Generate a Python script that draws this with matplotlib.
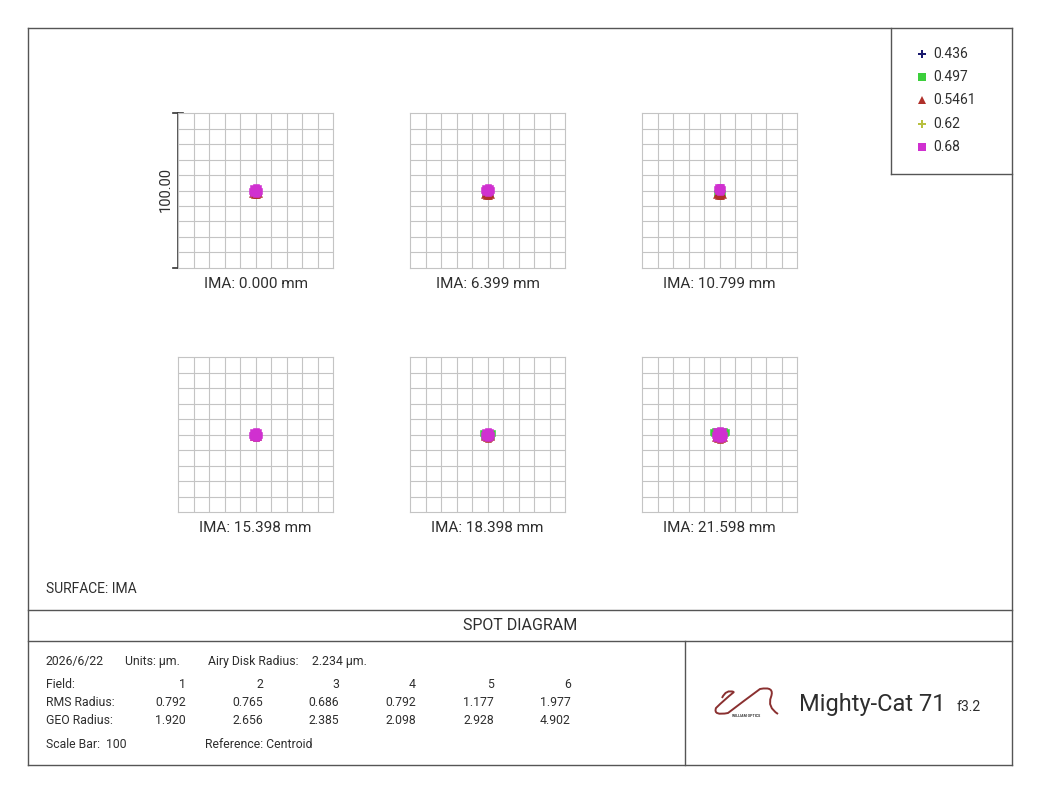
import matplotlib
matplotlib.use("Agg")
import matplotlib.pyplot as plt
from matplotlib.path import Path
from matplotlib.patches import PathPatch

plt.rcParams['font.family'] = ['Roboto', 'DejaVu Sans']

# wavelengths (um) and their marker styles
wavelengths = ['0.436', '0.497', '0.5461', '0.62', '0.68']
wl_colors = ['#1a1a6e', '#3ccf3c', '#b0302a', '#b8c040', '#d030d0']
wl_markers = ['P', 's', '^', 'P', 's']

field_labels = ['IMA: 0.000 mm', 'IMA: 6.399 mm', 'IMA: 10.799 mm',
                'IMA: 15.398 mm', 'IMA: 18.398 mm', 'IMA: 21.598 mm']

# spot points per field, per wavelength (x, y in um, relative to centroid)
spots = [
    {  # field 1
        '0.436': ([-1, 0, 1], [0, 1, 0]),
        '0.497': ([-1.5, 1.5], [-1, -1]),
        '0.5461': ([-2, -1, 0, 1, 2], [-2.5, -3, -3.2, -3, -2.5]),
        '0.62': ([0], [0]),
        '0.68': ([-2, -1.4, 0, 1.4, 2, 1.4, 0, -1.4], [0, 1.4, 2, 1.4, 0, -1.4, -2, -1.4]),
    },
    {  # field 2
        '0.436': ([-1, 0, 1], [0, 1, 0]),
        '0.497': ([-1.5, 1.5], [-1.5, -1.5]),
        '0.5461': ([-2.5, -1.2, 0, 1.2, 2.5], [-3, -3.6, -3.8, -3.6, -3]),
        '0.62': ([0], [0]),
        '0.68': ([-2, -1.4, 0, 1.4, 2, 1.4, 0, -1.4], [0.5, 1.9, 2.5, 1.9, 0.5, -0.9, -1.5, -0.9]),
    },
    {  # field 3
        '0.436': ([-1, 0, 1], [0, 1, 0]),
        '0.497': ([-1.5, 1.5], [-1.5, -1.5]),
        '0.5461': ([-2.2, -1, 0, 1, 2.2], [-2.8, -3.4, -3.6, -3.4, -2.8]),
        '0.62': ([0], [0]),
        '0.68': ([-1.8, -1.2, 0, 1.2, 1.8, 1.2, 0, -1.2], [0.8, 2, 2.4, 2, 0.8, -0.6, -1, -0.6]),
    },
    {  # field 4
        '0.436': ([-1, 0, 1], [0, 1, 0]),
        '0.497': ([-1.8, 1.8], [0, 0]),
        '0.5461': ([-1.5, 0, 1.5], [-1.5, -2, -1.5]),
        '0.62': ([0], [0]),
        '0.68': ([-2, -1.4, 0, 1.4, 2, 1.4, 0, -1.4], [0, 1.4, 2, 1.4, 0, -1.4, -2, -1.4]),
    },
    {  # field 5
        '0.436': ([-1, 0, 1], [0, 1, 0]),
        '0.497': ([-2.8, 2.8, -2.5, 2.5], [0.8, 0.8, -0.8, -0.8]),
        '0.5461': ([-2.2, -1, 0, 1, 2.2], [-1.8, -2.4, -2.6, -2.4, -1.8]),
        '0.62': ([0], [0]),
        '0.68': ([-2.2, -1.6, 0, 1.6, 2.2, 1.6, 0, -1.6], [0, 1.6, 2.2, 1.6, 0, -1.6, -2.2, -1.6]),
    },
    {  # field 6
        '0.436': ([-1, 0, 1], [0, 1, 0]),
        '0.497': ([-4.2, -3.6, 3.6, 4.2, -3.2, 3.2], [1.8, 0.8, 0.8, 1.8, 2.4, 2.4]),
        '0.5461': ([-3, -1.5, 0, 1.5, 3], [-2.2, -3, -3.3, -3, -2.2]),
        '0.62': ([0], [0]),
        '0.68': ([-3, -2.1, 0, 2.1, 3, 2.1, 0, -2.1, 0], [0, 2.1, 3, 2.1, 0, -2.1, -3, -2.1, 0]),
    },
]

field_nums = ['1', '2', '3', '4', '5', '6']
rms_radius = ['0.792', '0.765', '0.686', '0.792', '1.177', '1.977']
geo_radius = ['1.920', '2.656', '2.385', '2.098', '2.928', '4.902']

W, H = 1040, 795
txt = '#2e2e2e'
line_c = '#555555'

fig = plt.figure(figsize=(W / 100, H / 100), dpi=100)
fig.patch.set_facecolor('white')

# overlay in pixel coords for frame, text, legend
ov = fig.add_axes([0, 0, 1, 1])
ov.set_xlim(0, W)
ov.set_ylim(H, 0)
ov.axis('off')

def hline(y, x0, x1):
    ov.plot([x0, x1], [y, y], color=line_c, lw=1)

def vline(x, y0, y1):
    ov.plot([x, x], [y0, y1], color=line_c, lw=1)

hline(28, 28, 1012)
hline(765, 28, 1012)
vline(28, 28, 765)
vline(1012, 28, 765)
hline(610, 28, 1012)
hline(641, 28, 1012)
vline(685, 641, 765)
vline(891, 28, 174)
hline(174, 891, 1012)

# legend
for i, wl in enumerate(wavelengths):
    y = 54 + i * 23.2
    ov.plot(922, y, marker=wl_markers[i], color=wl_colors[i], ms=5.5, mew=0, ls='none')
    ov.text(933, y, wl, fontsize=10, color=txt, va='center', ha='left')

# spot diagram boxes
box = 155
cols = [178, 410, 642]
rows = [113, 357]
for k in range(6):
    x0 = cols[k % 3]
    y0 = rows[k // 3]
    ax = fig.add_axes([x0 / W, 1 - (y0 + box) / H, box / W, box / H])
    ax.set_xlim(-50, 50)
    ax.set_ylim(-50, 50)
    for g in range(-40, 50, 10):
        ax.axvline(g, color='#c4c4c4', lw=0.8, zorder=0)
        ax.axhline(g, color='#c4c4c4', lw=0.8, zorder=0)
    for s in ax.spines.values():
        s.set_color('#c4c4c4')
        s.set_linewidth(0.8)
    ax.set_xticks([])
    ax.set_yticks([])
    for i, wl in enumerate(wavelengths):
        xs, ys = spots[k][wl]
        ax.plot(xs, ys, marker=wl_markers[i], color=wl_colors[i], ms=4.5, mew=0.4,
                ls='none', zorder=2 + i)
    ov.text(x0 + box / 2, y0 + box + 16, field_labels[k], fontsize=11, color=txt,
            ha='center', va='center')

# scale bar
ov.plot([178, 178], [113, 268], color='#333333', lw=1.2)
ov.plot([173, 183], [113, 113], color='#333333', lw=1.2)
ov.plot([173, 183], [268, 268], color='#333333', lw=1.2)
ov.text(166, 190, '100.00', fontsize=10.5, color=txt, rotation=90, ha='center', va='center')

ov.text(46, 589, 'SURFACE: IMA', fontsize=10, color=txt, va='center')
ov.text(520, 626, 'SPOT DIAGRAM', fontsize=11.5, color=txt, va='center', ha='center')

# info block
fs = 8.8
ov.text(46, 661, '2026/6/22', fontsize=fs, color=txt, va='center')
ov.text(125, 661, 'Units: µm.', fontsize=fs, color=txt, va='center')
ov.text(208, 661, 'Airy Disk Radius:', fontsize=fs, color=txt, va='center')
ov.text(312, 661, '2.234 µm.', fontsize=fs, color=txt, va='center')
row_y = [684, 702, 720]
row_names = ['Field:', 'RMS Radius:', 'GEO Radius:']
row_vals = [field_nums, rms_radius, geo_radius]
col_x = [186, 263, 339, 416, 494, 571]
for name, vals, y in zip(row_names, row_vals, row_y):
    ov.text(46, y, name, fontsize=fs, color=txt, va='center')
    for v, x in zip(vals, col_x):
        ov.text(x, y, v, fontsize=fs, color=txt, va='center', ha='right')
ov.text(46, 745, 'Scale Bar:  100', fontsize=fs, color=txt, va='center')
ov.text(205, 745, 'Reference: Centroid', fontsize=fs, color=txt, va='center')

# logo
verts = [(722, 698), (726, 689), (734, 692), (724, 700), (716, 708),
         (713, 716), (728, 713), (745, 700), (760, 689), (775, 686),
         (771, 697), (767, 707), (778, 714)]
codes = [Path.MOVETO] + [Path.CURVE3] * 12
ov.add_patch(PathPatch(Path(verts, codes), fill=False, edgecolor='#8a3030', lw=1.4))
ov.text(746, 716, 'WILLIAM OPTICS', fontsize=2.6, color='#333333', ha='center', va='center',
        weight='bold')
ov.text(799, 704, 'Mighty-Cat 71', fontsize=17, color=txt, va='center')
ov.text(957, 707, 'f3.2', fontsize=10, color=txt, va='center')

fig.savefig('out.png', dpi=100, facecolor='white')
